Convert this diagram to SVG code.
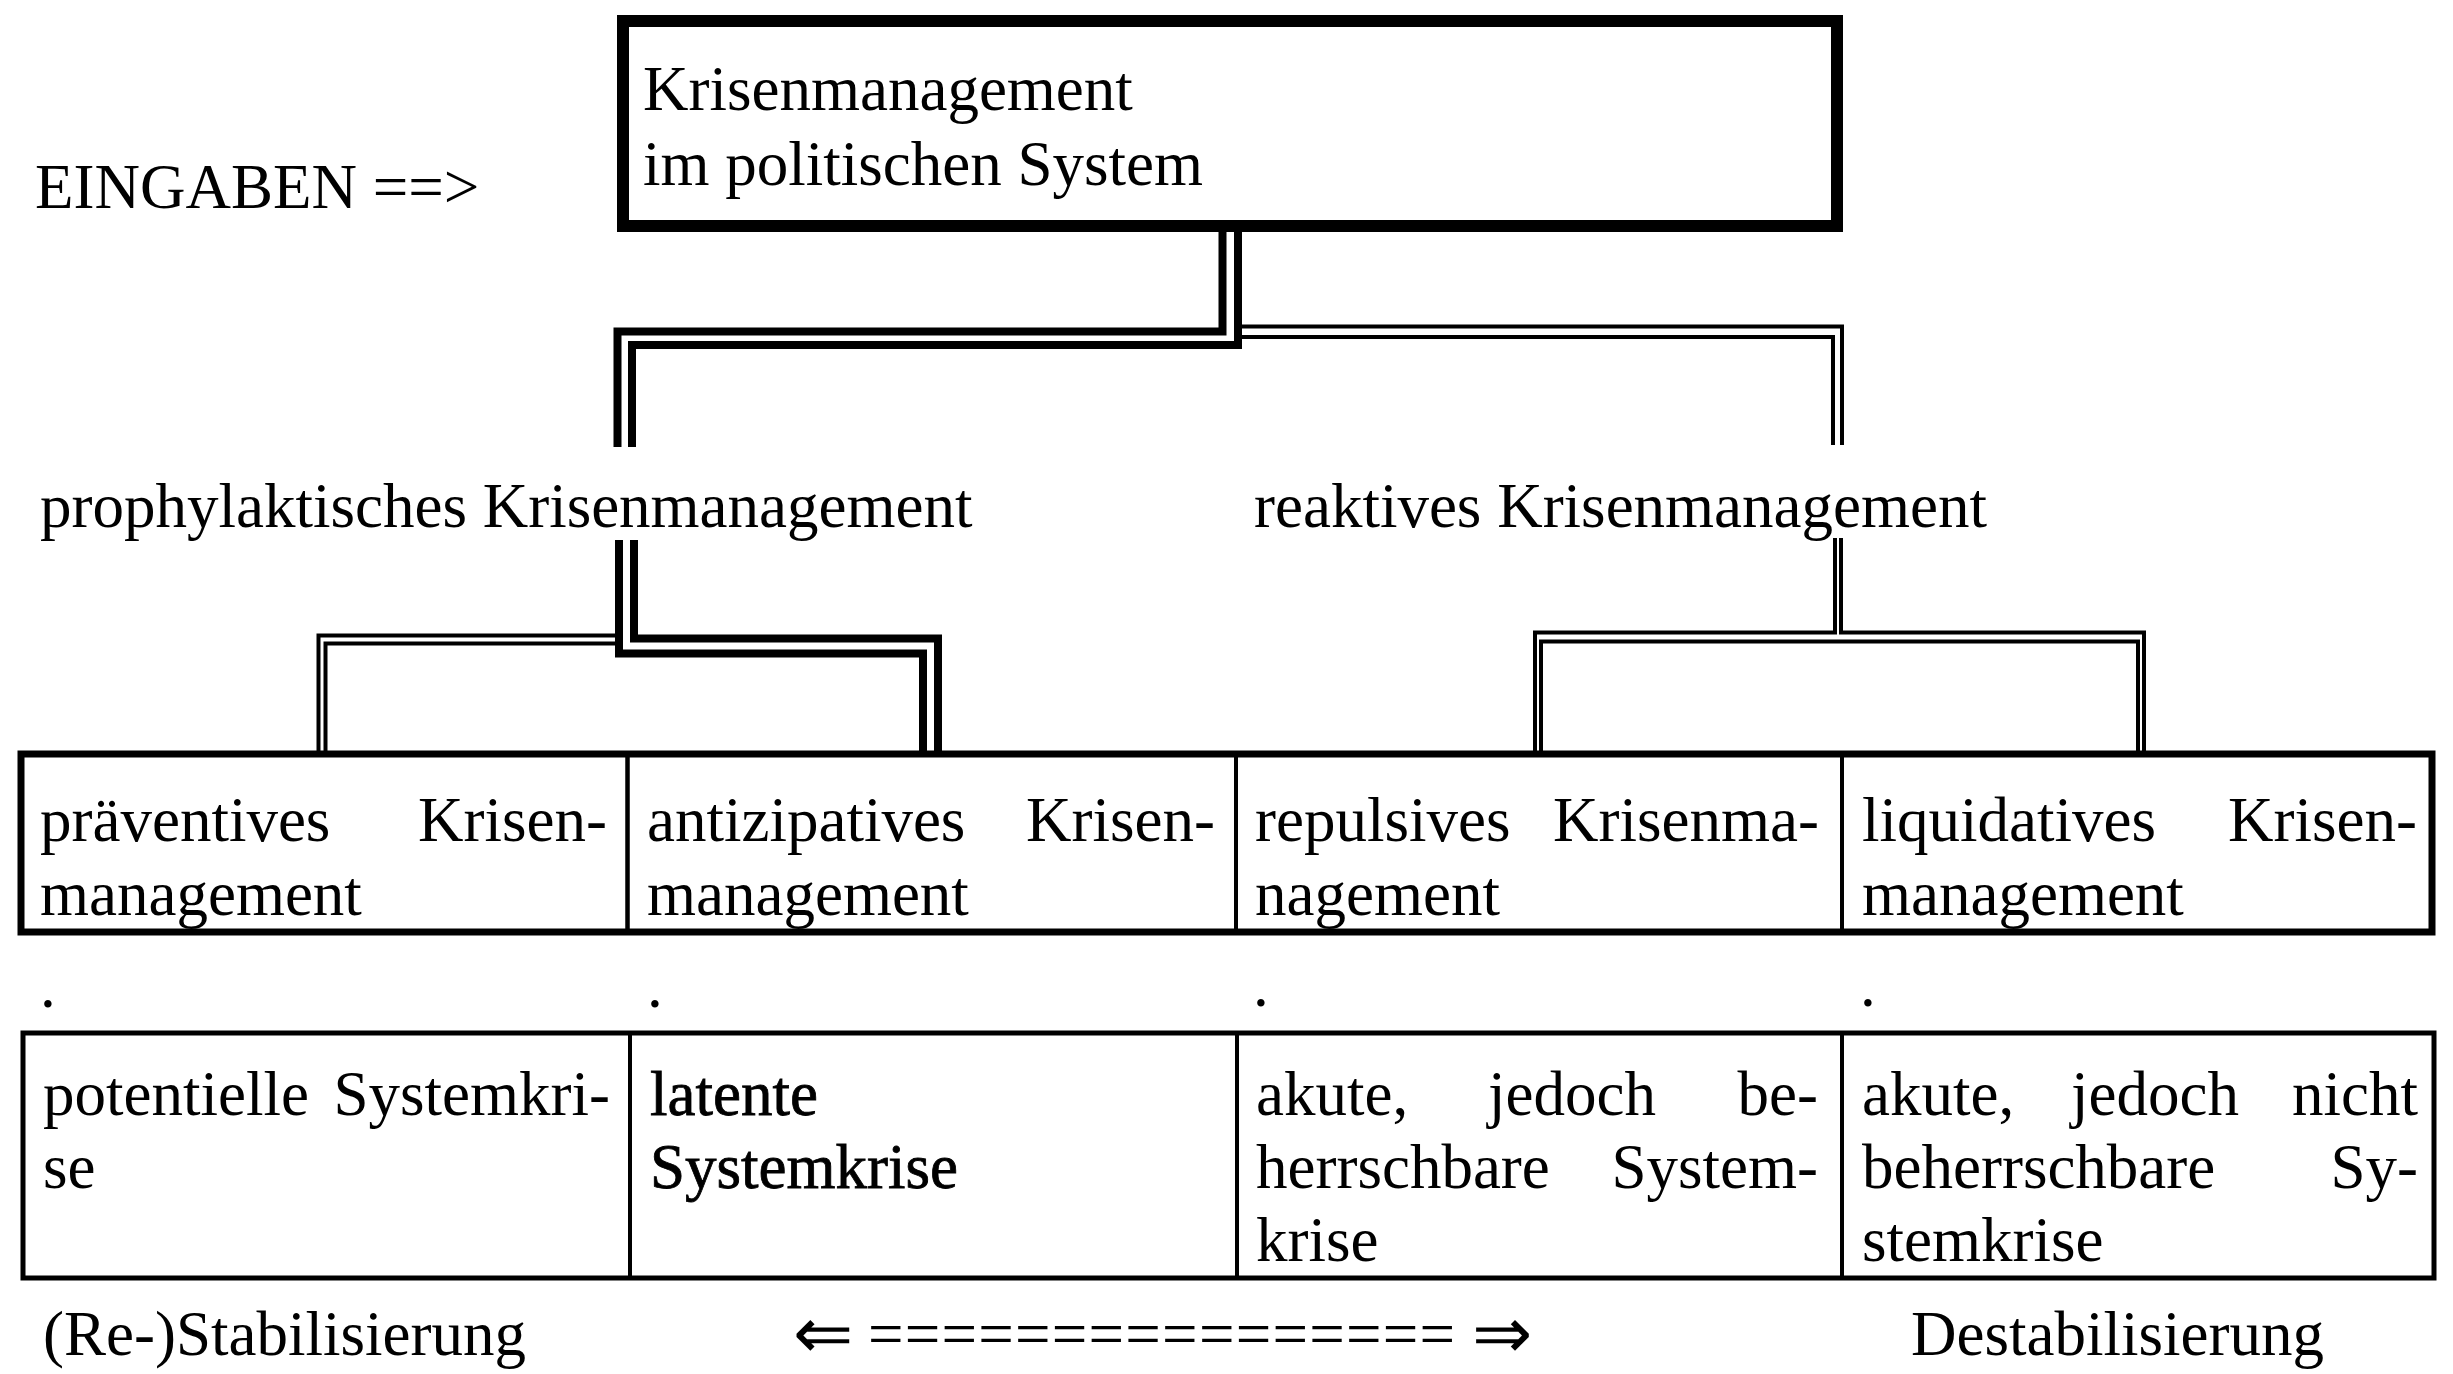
<svg xmlns="http://www.w3.org/2000/svg" width="2453" height="1374" viewBox="0 0 2453 1374">
<style>
text { font-family: "Liberation Serif", "Times New Roman", serif; font-size: 63px; fill: #000; }
.end { text-anchor: end; }
.dark { stroke: #000; stroke-width: 0.8; }
.arrow { font-size: 72px; }
.box { fill: #fff; stroke: #000; stroke-width: 12; }
.cell { fill: none; stroke: #000; stroke-width: 4; }
.frame1 { fill: none; stroke: #000; stroke-width: 7; }
.frame2 { fill: none; stroke: #000; stroke-width: 5; }
.thick { fill: none; stroke: #000; stroke-width: 8; stroke-linejoin: miter; }
.thin { fill: none; stroke: #000; stroke-width: 4; stroke-linejoin: miter; }
</style>
<rect x="0" y="0" width="2453" height="1374" fill="#fff"/>

<g id="connectors">
  <path class="thick" d="M617.5,447 V331.5 H1222.5 V232"/>
  <path class="thick" d="M1238,232 V345 H632 V447"/>
  <path class="thin" d="M1242,326.5 H1842 V445"/>
  <path class="thin" d="M1242,337 H1833 V445"/>
  <path class="thick" d="M619,540 V653.5 H923 V752"/>
  <path class="thick" d="M634,540 V638.5 H938 V752"/>
  <path class="thin" d="M615,635.5 H318.5 V752"/>
  <path class="thin" d="M615,643.5 H325.5 V752"/>
  <path class="thin" d="M1835,538 V632.5 H1535 V752"/>
  <path class="thin" d="M1841,538 V632.5 H2144 V752"/>
  <path class="thin" d="M1541,752 V641.5 H2138 V752"/>
</g>

<g id="eingaben">
  <text x="35" y="208">EINGABEN ==&gt;</text>
</g>

<g id="krisenmanagement">
  <rect class="box" x="623" y="21" width="1214" height="205"/>
  <text x="643" y="110">Krisenmanagement</text>
  <text x="643" y="185">im politischen System</text>
</g>

<g id="prophylaktisch">
  <text x="40" y="527">prophylaktisches Krisenmanagement</text>
</g>
<g id="reaktiv">
  <text x="1254" y="527">reaktives Krisenmanagement</text>
</g>

<g id="table-management">
  <rect class="frame1" x="21" y="754" width="2411" height="178"/>
</g>
<g id="praeventiv">
  <rect class="cell" x="21" y="754" width="606.5" height="178"/>
  <text x="40" y="841">präventives</text>
  <text class="end" x="607" y="841">Krisen-</text>
  <text x="40" y="915">management</text>
</g>
<g id="antizipativ">
  <rect class="cell" x="627.5" y="754" width="608.5" height="178"/>
  <text x="647" y="841">antizipatives</text>
  <text class="end" x="1215" y="841">Krisen-</text>
  <text x="647" y="915">management</text>
</g>
<g id="repulsiv">
  <rect class="cell" x="1236" y="754" width="606" height="178"/>
  <text x="1255" y="841">repulsives</text>
  <text class="end" x="1819" y="841">Krisenma-</text>
  <text x="1255" y="915">nagement</text>
</g>
<g id="liquidativ">
  <rect class="cell" x="1842" y="754" width="590" height="178"/>
  <text x="1862" y="841">liquidatives</text>
  <text class="end" x="2417" y="841">Krisen-</text>
  <text x="1862" y="915">management</text>
</g>

<g id="dots">
  <text x="40" y="1007">.</text>
  <text x="647" y="1007">.</text>
  <text x="1253" y="1006">.</text>
  <text x="1860" y="1006">.</text>
</g>

<g id="table-krise">
  <rect class="frame2" x="23" y="1033" width="2411" height="245"/>
</g>
<g id="potentiell">
  <rect class="cell" x="23" y="1033" width="607" height="245"/>
  <text x="43" y="1115">potentielle</text>
  <text class="end" x="610" y="1115">Systemkri-</text>
  <text x="43" y="1188">se</text>
</g>
<g id="latent">
  <rect class="cell" x="630" y="1033" width="607" height="245"/>
  <text class="dark" x="650" y="1115">latente</text>
  <text class="dark" x="650" y="1188">Systemkrise</text>
</g>
<g id="akut-beherrschbar">
  <rect class="cell" x="1237" y="1033" width="605" height="245"/>
  <text x="1256" y="1115">akute,</text>
  <text x="1488" y="1115">jedoch</text>
  <text class="end" x="1818" y="1115">be-</text>
  <text x="1256" y="1188">herrschbare</text>
  <text class="end" x="1818" y="1188">System-</text>
  <text x="1256" y="1261">krise</text>
</g>
<g id="akut-nicht-beherrschbar">
  <rect class="cell" x="1842" y="1033" width="592" height="245"/>
  <text x="1862" y="1115">akute,</text>
  <text x="2071" y="1115">jedoch</text>
  <text class="end" x="2418" y="1115">nicht</text>
  <text x="1862" y="1188">beherrschbare</text>
  <text class="end" x="2418" y="1188">Sy-</text>
  <text x="1862" y="1261">stemkrise</text>
</g>

<g id="stabilisierung">
  <text x="43" y="1355">(Re-)Stabilisierung</text>
</g>
<g id="achse">
  <text class="arrow" x="793" y="1358">⇐</text>
  <text x="868" y="1355" textLength="587" lengthAdjust="spacing">================</text>
  <text class="arrow end" x="1532" y="1358">⇒</text>
</g>
<g id="destabilisierung">
  <text x="1911" y="1355">Destabilisierung</text>
</g>
</svg>
